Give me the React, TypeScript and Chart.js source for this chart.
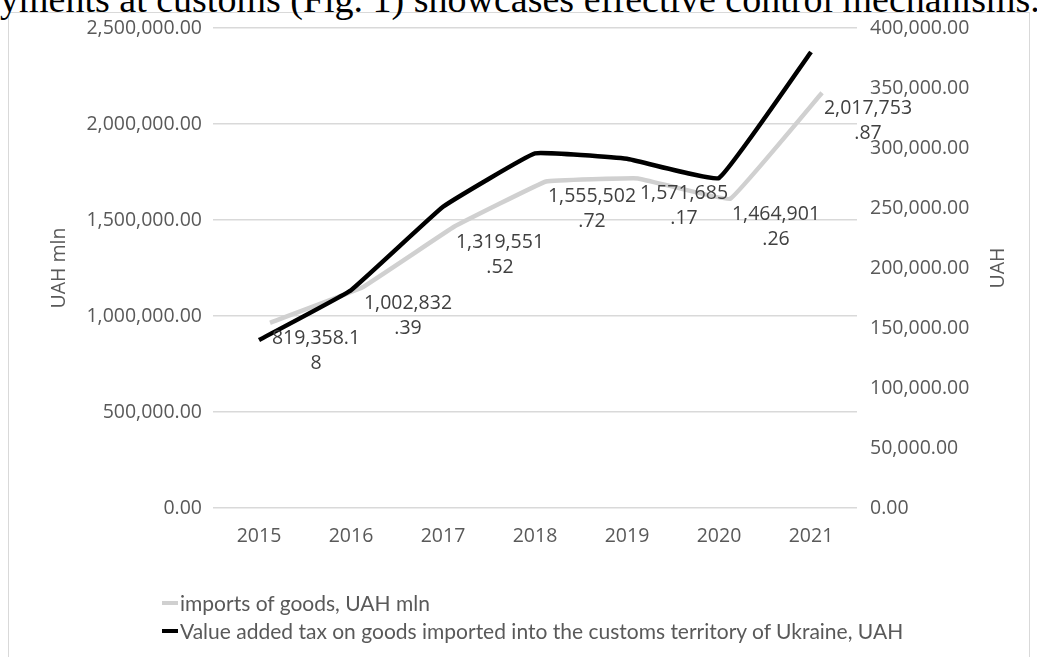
import React, { useEffect, useRef } from "react";
import { Chart, registerables } from "chart.js";

Chart.register(...registerables);

// ---------- data ----------
const years = ["2015", "2016", "2017", "2018", "2019", "2020", "2021"];
const importsOfGoods = [819358.18, 1002832.39, 1319551.52, 1555502.72, 1571685.17, 1464901.26, 2017753.87];
const vatOnImports = [140000, 181500, 251000, 295500, 291000, 275000, 380000];
const leftTicks = [0, 500000, 1000000, 1500000, 2000000, 2500000];
const rightTicks = [0, 50000, 100000, 150000, 200000, 250000, 300000, 350000, 400000];
const seriesNames = [
  "imports of goods, UAH mln",
  "Value added tax on goods imported into the customs territory of Ukraine, UAH",
];
const leftAxisTitle = "UAH mln";
const rightAxisTitle = "UAH";
const headerText = "yments at customs (Fig. 1) showcases effective control mechanisms.";

// style: the grey line is drawn slightly offset (as in the source picture)
const GREY_SHIFT_X = 0.12; // in category units
const GREY_SHIFT_Y = 145000; // in left-axis units

const TICK_FONT = { family: "'Open Sans', sans-serif", size: 19.5 };
const TICK_COLOR = "#595959";
const GRID_COLOR = "#d9d9d9";

const fmt = (v: number) =>
  v.toLocaleString("en-US", { minimumFractionDigits: 2, maximumFractionDigits: 2 });

function wrapLabel(ctx: CanvasRenderingContext2D, text: string, maxW: number): string[] {
  if (ctx.measureText(text).width <= maxW) return [text];
  let n = text.length;
  while (n > 1 && ctx.measureText(text.slice(0, n)).width > maxW) n--;
  if (text[n - 1] === ".") n--;
  return [text.slice(0, n), text.slice(n)];
}

const importLabelsPlugin = {
  id: "importLabels",
  afterDatasetsDraw(chart: any) {
    const { ctx, scales } = chart;
    const xs = scales.x;
    const ys = scales.y;
    ctx.save();
    ctx.font = "19.5px 'Open Sans', sans-serif";
    ctx.fillStyle = "#404040";
    ctx.textAlign = "center";
    ctx.textBaseline = "middle";
    importsOfGoods.forEach((v, i) => {
      const lines = wrapLabel(ctx, fmt(v), 91.5);
      const cx = xs.getPixelForValue(i) + 57;
      const cy = ys.getPixelForValue(v);
      const lh = 25;
      lines.forEach((ln, k) => ctx.fillText(ln, cx, cy + (k - (lines.length - 1) / 2) * lh));
    });
    ctx.restore();
  },
};

const rightTitlePlugin = {
  id: "rightTitle",
  afterDraw(chart: any) {
    const { ctx, chartArea } = chart;
    ctx.save();
    ctx.font = "19.5px 'Open Sans', sans-serif";
    ctx.fillStyle = TICK_COLOR;
    ctx.textAlign = "center";
    ctx.textBaseline = "middle";
    ctx.translate(998, (chartArea.top + chartArea.bottom) / 2);
    ctx.rotate(-Math.PI / 2);
    ctx.fillText(rightAxisTitle, 0, 0);
    ctx.restore();
  },
};

export default function App() {
  const canvasRef = useRef<HTMLCanvasElement | null>(null);

  useEffect(() => {
    if (!canvasRef.current) return;
    const chart = new Chart(canvasRef.current, {
      type: "line",
      data: {
        labels: years,
        datasets: [
          {
            label: seriesNames[1],
            data: vatOnImports,
            xAxisID: "x",
            yAxisID: "y1",
            borderColor: "#000000",
            backgroundColor: "#000000",
            borderWidth: 4.5,
            pointRadius: 0,
            tension: 0.08,
          },
          {
            label: seriesNames[0],
            data: importsOfGoods.map((v, i) => ({ x: i, y: v })),
            xAxisID: "xShift",
            yAxisID: "yShift",
            borderColor: "#d0d0d0",
            backgroundColor: "#d0d0d0",
            borderWidth: 4.5,
            pointRadius: 0,
            tension: 0.06,
          },
        ],
      },
      options: {
        responsive: false,
        animation: false,
        layout: { padding: { top: 28, left: 0, right: 0, bottom: 109 } },
        plugins: {
          legend: { display: false },
          tooltip: { enabled: false },
        },
        scales: {
          x: {
            type: "category",
            offset: true,
            grid: { display: false },
            border: { display: false },
            ticks: { color: TICK_COLOR, font: TICK_FONT, padding: 9, maxRotation: 0 },
            afterFit: (s: any) => {
              s.height = 40;
            },
          },
          xShift: {
            type: "linear",
            display: false,
            min: -0.5 - GREY_SHIFT_X,
            max: years.length - 0.5 - GREY_SHIFT_X,
          },
          y: {
            type: "linear",
            position: "left",
            min: leftTicks[0],
            max: leftTicks[leftTicks.length - 1],
            afterBuildTicks: (s: any) => {
              s.ticks = leftTicks.map((v) => ({ value: v }));
            },
            grid: { color: GRID_COLOR, lineWidth: 1.5, drawTicks: false },
            border: { display: false },
            ticks: {
              color: TICK_COLOR,
              font: TICK_FONT,
              padding: 11,
              callback: (v: any) => fmt(Number(v)),
            },
            title: {
              display: true,
              text: leftAxisTitle,
              color: TICK_COLOR,
              font: TICK_FONT,
              padding: { top: 48, bottom: 0 },
            },
            afterFit: (s: any) => {
              s.width = 213;
            },
          },
          yShift: {
            type: "linear",
            display: false,
            min: leftTicks[0] - GREY_SHIFT_Y,
            max: leftTicks[leftTicks.length - 1] - GREY_SHIFT_Y,
          },
          y1: {
            type: "linear",
            position: "right",
            min: rightTicks[0],
            max: rightTicks[rightTicks.length - 1],
            afterBuildTicks: (s: any) => {
              s.ticks = rightTicks.map((v) => ({ value: v }));
            },
            grid: { display: false, drawTicks: false },
            border: { display: false },
            ticks: {
              color: TICK_COLOR,
              font: TICK_FONT,
              padding: 13,
              callback: (v: any) => fmt(Number(v)),
            },
            afterFit: (s: any) => {
              s.width = 180;
            },
          },
        },
      },
      plugins: [importLabelsPlugin, rightTitlePlugin],
    });
    return () => chart.destroy();
  }, []);

  return (
    <div
      style={{
        position: "absolute",
        left: 0,
        top: 0,
        width: 1037,
        height: 657,
        overflow: "hidden",
        background: "#ffffff",
      }}
    >
      <div
        style={{
          position: "absolute",
          left: 8,
          top: 12,
          width: 1022,
          height: 700,
          border: "1px solid #d9d9d9",
          boxSizing: "border-box",
        }}
      />
      <div
        style={{
          position: "absolute",
          left: 0,
          top: -20,
          whiteSpace: "nowrap",
          fontFamily: "'Liberation Serif', serif",
          fontSize: 38,
          lineHeight: "38px",
          color: "#000",
        }}
      >
        {headerText}
      </div>
      <canvas
        ref={canvasRef}
        width={1037}
        height={657}
        style={{ position: "absolute", left: 0, top: 0, width: 1037, height: 657 }}
      />
      <div
        style={{
          position: "absolute",
          left: 162,
          top: 589,
          fontFamily: "Lato, sans-serif",
          fontSize: 21,
          color: TICK_COLOR,
          lineHeight: "28px",
        }}
      >
        {seriesNames.map((name, i) => (
          <div key={name} style={{ display: "flex", alignItems: "center", whiteSpace: "nowrap" }}>
            <span
              style={{
                display: "inline-block",
                width: 16,
                height: 4,
                background: i === 0 ? "#d0d0d0" : "#000000",
                marginRight: 2,
              }}
            />
            <span>{name}</span>
          </div>
        ))}
      </div>
    </div>
  );
}
